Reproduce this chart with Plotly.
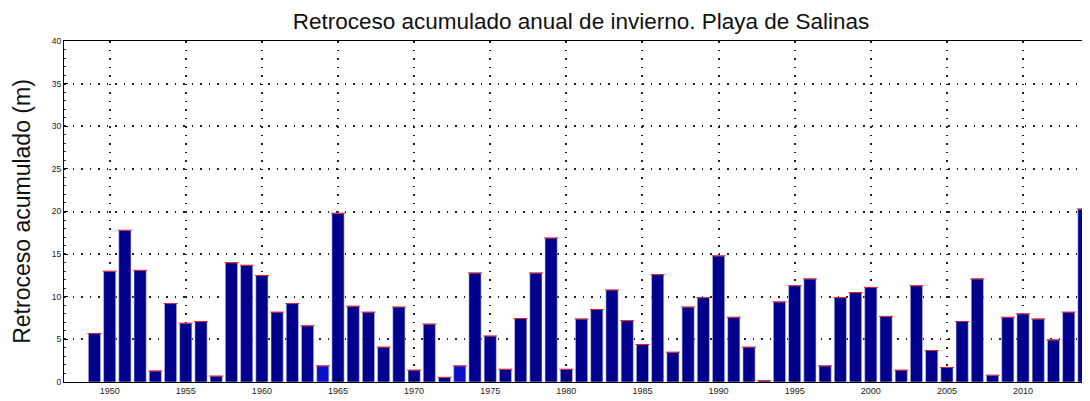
import plotly.graph_objects as go

years = list(range(1949, 2015))
retroceso = [
    5.7, 13.0, 17.8, 13.1, 1.3, 9.2, 6.9, 7.1, 0.7, 14.0,
    13.7, 12.5, 8.2, 9.2, 6.6, 1.9, 19.8, 8.9, 8.2, 4.1,
    8.8, 1.4, 6.8, 0.55, 1.9, 12.8, 5.4, 1.5, 7.45, 12.8,
    16.9, 1.5, 7.4, 8.5, 10.8, 7.2, 4.4, 12.6, 3.5, 8.8,
    9.9, 14.8, 7.6, 4.1, 0.16, 9.4, 11.3, 12.1, 1.9, 9.9,
    10.5, 11.1, 7.7, 1.4, 11.3, 3.7, 1.7, 7.1, 12.1, 0.8,
    7.6, 8.0, 7.4, 4.95, 8.2, 20.3,
]
highlight_years = [1964, 1973]
x_ticks = list(range(1950, 2015, 5))
y_ticks = list(range(0, 45, 5))

title = "Retroceso acumulado anual de invierno. Playa de Salinas"
y_title = "Retroceso acumulado (m)"

colors = ["#0a10c8" if y in highlight_years else "#00008c" for y in years]

fig = go.Figure()
fig.add_trace(go.Bar(
    x=years, y=retroceso,
    marker=dict(color=colors, line=dict(color="#c8c8f0", width=0.6)),
    width=0.8, showlegend=False,
))
fig.add_trace(go.Scatter(
    x=years, y=retroceso, mode="markers",
    marker=dict(symbol="line-ew", size=10, color="#e02020",
                line=dict(color="#e02020", width=1)),
    showlegend=False, hoverinfo="skip",
))

# page body has an 8px margin, so the figure is 1082x393 to fill the window
fig.update_layout(
    width=1082, height=393,
    margin=dict(l=56, r=0, t=33, b=19),
    paper_bgcolor="white", plot_bgcolor="white",
    font=dict(family="Liberation Sans, Arial, sans-serif", color="black"),
    title=dict(text=title, x=573 / 1082, xanchor="center", xref="container",
               y=1 - 13 / 393, yanchor="middle", yref="container",
               font=dict(size=22.5, color="#111111")),
    bargap=0.2,
)

fig.update_xaxes(
    range=[1947, 2014.4], tickvals=x_ticks, ticktext=[str(v) for v in x_ticks],
    showgrid=True, gridcolor="#222222", griddash="1.5px,7px", gridwidth=1.5,
    showline=True, linecolor="black", linewidth=1, mirror=True,
    ticks="inside", ticklen=3, tickcolor="black",
    tickfont=dict(size=9, color="#222222"), zeroline=False,
)
fig.update_yaxes(
    range=[0, 40], tickvals=y_ticks,
    showgrid=True, gridcolor="#222222", griddash="1.5px,7px", gridwidth=1.5,
    showline=True, linecolor="black", linewidth=1, mirror=True,
    ticks="inside", ticklen=4, tickcolor="black",
    minor=dict(dtick=1, ticks="inside", ticklen=2, tickcolor="#333333", showgrid=False),
    tickfont=dict(size=8.5, color="#222222"), zeroline=False,
    title=dict(text=y_title, font=dict(size=23, color="#111111"), standoff=14),
)

fig.write_html("out.html")
